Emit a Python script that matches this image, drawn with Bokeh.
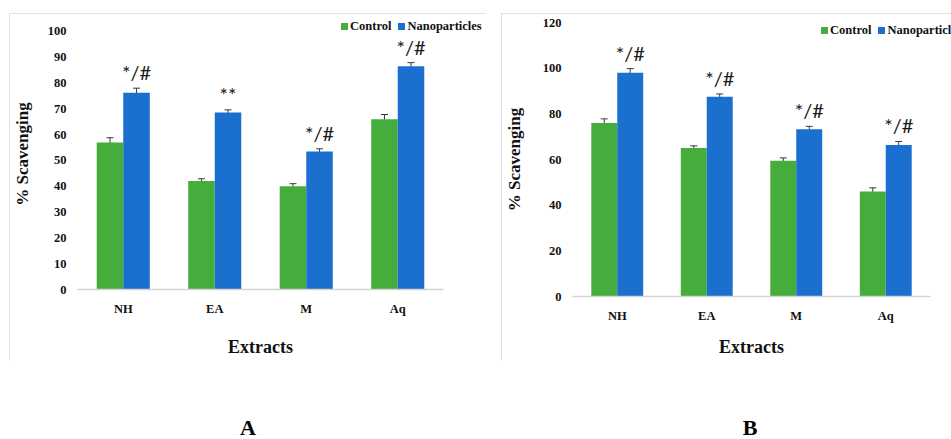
from bokeh.plotting import figure
from bokeh.models import (ColumnDataSource, FactorRange, Range1d, Whisker, TeeHead,
                          Div, FixedTicker)
from bokeh.transform import dodge
from bokeh.core.properties import value
from bokeh.embed import file_html
from bokeh.resources import INLINE

# ---------------- data ----------------
extracts = ["NH", "EA", "M", "Aq"]

a_control = [57.0, 42.0, 40.0, 66.0]
a_control_err = [1.8, 0.9, 1.0, 1.8]
a_nano = [76.2, 68.6, 53.5, 86.5]
a_nano_err = [1.8, 1.0, 1.0, 1.4]
a_marks = ["*/#", "**", "*/#", "*/#"]
a_ticks = [0, 10, 20, 30, 40, 50, 60, 70, 80, 90, 100]

b_control = [76.0, 65.0, 59.5, 46.0]
b_control_err = [1.8, 1.0, 1.2, 1.6]
b_nano = [98.0, 87.5, 73.3, 66.3]
b_nano_err = [1.8, 1.2, 1.2, 1.6]
b_marks = ["*/#", "*/#", "*/#", "*/#"]
b_ticks = [0, 20, 40, 60, 80, 100, 120]

series_names = ["Control", "Nanoparticles"]
panel_labels = ["A", "B"]

GREEN = "#45ad3c"
BLUE = "#1b6fcf"
SERIF = "Liberation Serif"
BAR_W = 0.29
OFF = BAR_W / 2


def panel(control, cerr, nano, nerr, marks, ticks, y_end, width, borders,
          y_label_standoff, x_label_standoff, left, top):
    src = ColumnDataSource(dict(
        x=extracts, control=control, nano=nano,
        c_up=[v + e for v, e in zip(control, cerr)],
        c_lo=[v - e for v, e in zip(control, cerr)],
        n_up=[v + e for v, e in zip(nano, nerr)],
        n_lo=[v - e for v, e in zip(nano, nerr)],
        marks=marks,
    ))
    b_left, b_right, b_top, b_bottom = borders
    p = figure(width=width, height=348, x_range=FactorRange(*extracts, range_padding=0),
               y_range=Range1d(0, y_end), output_backend="svg", toolbar_location=None,
               min_border_left=b_left, min_border_right=b_right, min_border_top=b_top,
               min_border_bottom=b_bottom, outline_line_color=None,
               background_fill_color="white", border_fill_color="white",
               styles={"position": "absolute", "left": f"{left}px", "top": f"{top}px",
                       "outline": "2px solid #d9d9d9", "outline-offset": "-2px"},
               margin=0)
    p.xgrid.visible = False
    p.ygrid.visible = False

    p.vbar(x=dodge("x", -OFF, range=p.x_range), top="control", width=BAR_W,
           source=src, fill_color=GREEN, line_color=None)
    p.vbar(x=dodge("x", OFF, range=p.x_range), top="nano", width=BAR_W,
           source=src, fill_color=BLUE, line_color=None)

    for base, up, lo in ((dodge("x", -OFF, range=p.x_range), "c_up", "c_lo"),
                         (dodge("x", OFF, range=p.x_range), "n_up", "n_lo")):
        w = Whisker(source=src, base=base, upper=up, lower=lo,
                    line_color="#3a3a3a", line_width=1,
                    upper_head=TeeHead(size=7, line_color="#3a3a3a", line_width=1),
                    lower_head=TeeHead(size=7, line_color="#3a3a3a", line_width=1))
        p.add_layout(w)

    p.text(x=dodge("x", OFF, range=p.x_range), y="n_up", text="marks", source=src,
           text_align="center", text_baseline="alphabetic", y_offset=-16,
           text_font=value("Lato"), text_font_size=value("20px"), text_color="#1a1a1a")

    p.yaxis.ticker = FixedTicker(ticks=ticks)
    p.yaxis.axis_line_color = None
    p.yaxis.major_tick_line_color = None
    p.yaxis.minor_tick_line_color = None
    p.yaxis.major_tick_out = 0
    p.yaxis.major_tick_in = 0
    p.yaxis.minor_tick_out = 0
    p.yaxis.major_label_standoff = 11
    p.yaxis.axis_label = "% Scavenging"
    p.yaxis.axis_label_standoff = y_label_standoff

    p.xaxis.axis_line_color = "#d4d4d4"
    p.xaxis.axis_line_width = 1.5
    p.xaxis.major_tick_line_color = None
    p.xaxis.minor_tick_line_color = None
    p.xaxis.major_tick_out = 0
    p.xaxis.major_tick_in = 0
    p.xaxis.minor_tick_out = 0
    p.xaxis.major_label_standoff = 12
    p.xaxis.axis_label = "Extracts"
    p.xaxis.axis_label_standoff = x_label_standoff

    for ax in (p.xaxis[0], p.yaxis[0]):
        ax.major_label_text_font = SERIF
        ax.major_label_text_font_style = "bold"
        ax.major_label_text_color = "#111111"
        ax.axis_label_text_font = SERIF
        ax.axis_label_text_font_style = "bold"
        ax.axis_label_text_color = "#111111"
    p.yaxis.major_label_text_font_size = "12.5px"
    p.xaxis.major_label_text_font_size = "12.5px"
    p.yaxis.axis_label_text_font_size = "17px"
    p.xaxis.axis_label_text_font_size = "18px"
    return p


pa = panel(a_control, a_control_err, a_nano, a_nano_err, a_marks, a_ticks, 105, 477,
           (66, 43, 5, 72), 13, 18, 9, 13)
pb = panel(b_control, b_control_err, b_nano, b_nano_err, b_marks, b_ticks, 120, 450,
           (68, 21, 9, 65), 16, 11, 501, 13)


def legend_div(left, top, width):
    def swatch(color, gap):
        return (f'<span style="display:inline-block;width:7px;height:7px;background:{color};'
                f'margin-left:{gap}px;margin-right:2px"></span>')
    html = (swatch(GREEN, 0) + series_names[0] + swatch(BLUE, 7) + series_names[1])
    return Div(text=html, width=width, height=16, margin=0,
               styles={"position": "absolute", "left": f"{left}px", "top": f"{top}px",
                       "overflow": "hidden", "white-space": "nowrap",
                       "font-family": SERIF, "font-weight": "bold", "font-size": "12.5px",
                       "line-height": "16px", "color": "#111111"})


def label_div(text, left):
    return Div(text=text, width=40, height=20, margin=0,
               styles={"position": "absolute", "left": f"{left}px", "top": "418px",
                       "font-family": SERIF, "font-weight": "bold", "font-size": "22px",
                       "line-height": "20px", "text-align": "center", "color": "#000000"})


la = legend_div(341, 18, 142)
lb = legend_div(821, 22, 130)
da = label_div(panel_labels[0], 228)
db = label_div(panel_labels[1], 730)

open("out.html", "w").write(file_html([pa, pb, la, lb, da, db], INLINE))
